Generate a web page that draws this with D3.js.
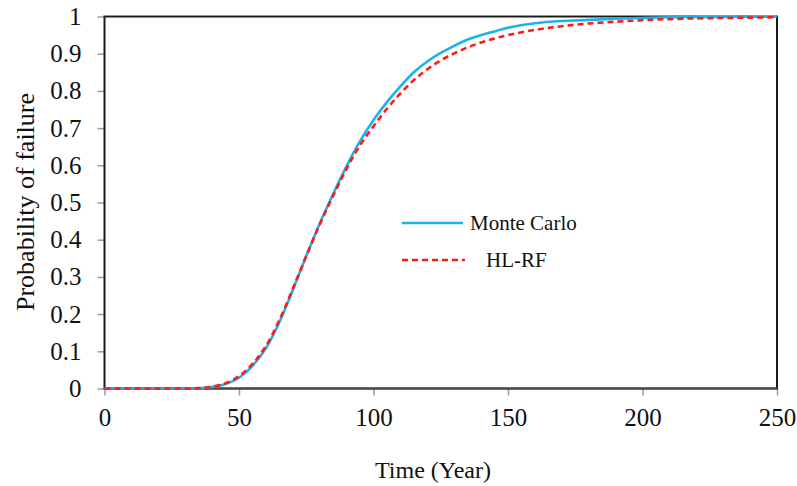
<!DOCTYPE html>
<html>
<head>
<meta charset="utf-8">
<script src="https://cdn.jsdelivr.net/npm/d3@7"></script>
<style>
  html, body { margin: 0; padding: 0; background: #fff; }
  svg { display: block; }
  text { font-family: "Liberation Serif", "Times New Roman", serif; fill: #111; }
</style>
</head>
<body>
<svg id="chart" width="797" height="486"></svg>
<script>
// Time axis (years)
const times = [0, 10, 20, 30, 35, 40, 45, 50, 55, 60, 65, 70, 75, 80, 85, 90, 95, 100,
  105, 110, 115, 120, 125, 130, 135, 140, 145, 150, 160, 170, 180, 190, 200,
  210, 220, 230, 240, 250];

// Probability of failure, simulation
const monteCarlo = [0, 0, 0, 0, 0.0005, 0.004, 0.012, 0.029, 0.061, 0.108, 0.178, 0.265,
  0.356, 0.443, 0.523, 0.598, 0.665, 0.722, 0.77, 0.812, 0.85, 0.879, 0.902, 0.921,
  0.938, 0.95, 0.96, 0.97, 0.982, 0.988, 0.991, 0.994, 0.996, 0.998, 0.999, 0.999, 1.0, 1.0];

// Probability of failure, first-order reliability method
const hlrf = [0, 0, 0, 0, 0.001, 0.005, 0.014, 0.033, 0.066, 0.114, 0.184, 0.268,
  0.356, 0.441, 0.518, 0.591, 0.654, 0.705, 0.752, 0.793, 0.829, 0.858, 0.882, 0.901,
  0.917, 0.93, 0.941, 0.95, 0.964, 0.974, 0.981, 0.986, 0.99, 0.993, 0.995, 0.996, 0.997, 0.998];

const xTicks = [0, 50, 100, 150, 200, 250];
const yTicks = [0, 0.1, 0.2, 0.3, 0.4, 0.5, 0.6, 0.7, 0.8, 0.9, 1];

const seriesNames = ["Monte Carlo", "HL-RF"];

const serif = "'Liberation Serif', 'Times New Roman', serif";
const svg = d3.select("#chart");
const plot = { left: 104.5, right: 777, top: 16.5, bottom: 388.5 };

const x = d3.scaleLinear().domain([0, 250]).range([plot.left, plot.right]);
const y = d3.scaleLinear().domain([0, 1]).range([plot.bottom, plot.top]);

// Axes with outward gray ticks
const xAxis = svg.append("g")
  .attr("transform", `translate(0,${plot.bottom})`)
  .call(d3.axisBottom(x).tickValues(xTicks).tickSize(7).tickPadding(13).tickFormat(d3.format("d")));
const yAxis = svg.append("g")
  .attr("transform", `translate(${plot.left},0)`)
  .call(d3.axisLeft(y).tickValues(yTicks).tickSize(7).tickPadding(16).tickFormat(d => d === 0 || d === 1 ? d3.format("d")(d) : d3.format(".1f")(d)));

[xAxis, yAxis].forEach(g => {
  g.attr("font-family", serif);
  g.select(".domain").remove();
  g.selectAll(".tick line").attr("stroke", "#9a9a9a").attr("stroke-width", 1.5);
  g.selectAll(".tick text").attr("font-size", 25)
    .style("font-family", serif).attr("fill", "#111");
});

// Plot frame
svg.append("rect")
  .attr("x", plot.left).attr("y", plot.top)
  .attr("width", plot.right - plot.left).attr("height", plot.bottom - plot.top)
  .attr("fill", "none").attr("stroke", "#1a1a1a").attr("stroke-width", 2);
svg.append("line")
  .attr("x1", plot.left).attr("x2", plot.right)
  .attr("y1", plot.bottom).attr("y2", plot.bottom)
  .attr("stroke", "#4a4a4a").attr("stroke-width", 2.2);

// Curves
const line = d3.line().x((d, i) => x(times[i])).y(d => y(d)).curve(d3.curveCatmullRom.alpha(0.5));

svg.append("path").datum(monteCarlo)
  .attr("d", line).attr("fill", "none")
  .attr("stroke", "#1cb2ea").attr("stroke-width", 2.6);

svg.append("path").datum(hlrf)
  .attr("d", line).attr("fill", "none")
  .attr("stroke", "#ff1a1a").attr("stroke-width", 2.6)
  .attr("stroke-dasharray", "6,4");

// Legend
const legend = svg.append("g");
legend.append("line").attr("x1", 402).attr("x2", 463).attr("y1", 223).attr("y2", 223)
  .attr("stroke", "#1cb2ea").attr("stroke-width", 2.6);
legend.append("text").attr("x", 470).attr("y", 230).attr("font-size", 21).text(seriesNames[0]);
legend.append("line").attr("x1", 402).attr("x2", 465).attr("y1", 260).attr("y2", 260)
  .attr("stroke", "#ff1a1a").attr("stroke-width", 2.6).attr("stroke-dasharray", "6,4");
legend.append("text").attr("x", 486).attr("y", 267).attr("font-size", 21).text(seriesNames[1]);

// Axis titles
svg.append("text")
  .attr("x", 433).attr("y", 478).attr("text-anchor", "middle")
  .attr("font-size", 24).text("Time (Year)");
svg.append("text")
  .attr("transform", "translate(34,202) rotate(-90)")
  .attr("text-anchor", "middle").attr("font-size", 26).text("Probability of failure");
</script>
</body>
</html>
